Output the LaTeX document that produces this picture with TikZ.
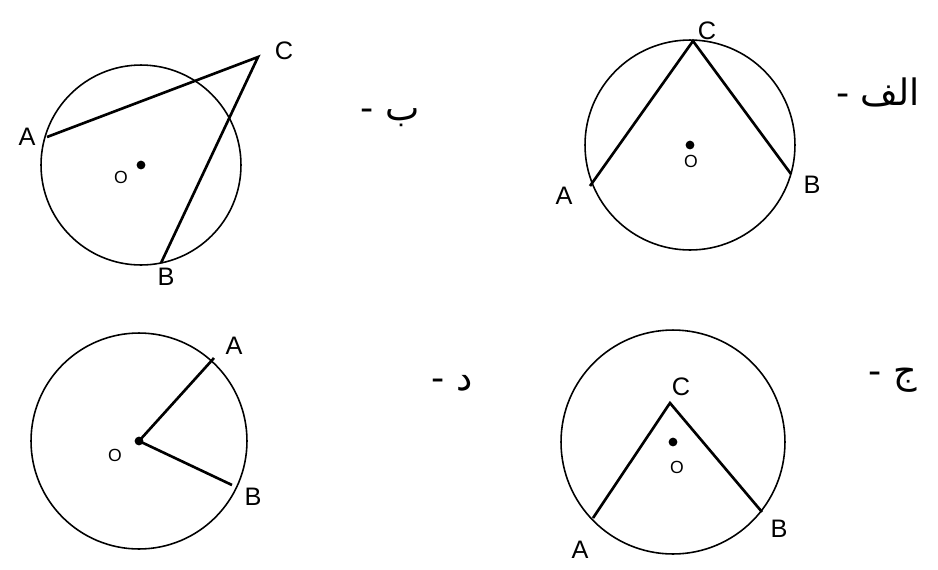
\documentclass[tikz,border=0pt]{standalone}
\usepackage{fontspec}
\setmainfont{Liberation Sans}
\newfontfamily\arabicfont[Script=Arabic]{DejaVu Sans}
\TeXXeTstate=1

\begin{document}
\begin{tikzpicture}[x=0.02cm, y=-0.02cm,
    rim/.style={line width=0.9pt},
    chord/.style={line width=1.5pt},
    lbl/.style={font=\Large},
    olbl/.style={font=\normalsize},
    tag/.style={font=\arabicfont\huge}]
  \useasboundingbox (0,0) rectangle (938,569);

  % ب
  \coordinate (Ob) at (141,165);
  \coordinate (Ab) at (47,137);
  \coordinate (Bb) at (161,263);
  \coordinate (Cb) at (258,57);
  \draw[rim] (Ob) circle (2cm);
  \draw[chord] (Ab) -- (Cb) -- (Bb);
  \fill (Ob) circle (2.5pt);
  \node[lbl] (tAb) at (27,137) {A};
  \node[lbl] (tBb) at (166,277) {B};
  \node[lbl] (tCb) at (284,51) {C};
  \node[olbl] (tOb) at (121,177) {O};
  \node[tag] (tagb) at (390,118) {\beginR ب -\endR};

  % الف
  \coordinate (Oa) at (690,145);
  \coordinate (Aa) at (590,186);
  \coordinate (Ba) at (791,174);
  \coordinate (Ca) at (693,41);
  \draw[rim] (Oa) circle (2.1cm);
  \draw[chord] (Aa) -- (Ca) -- (Ba);
  \fill (Oa) circle (2.5pt);
  \node[lbl] (tAa) at (564,196) {A};
  \node[lbl] (tBa) at (812,185) {B};
  \node[lbl] (tCa) at (707,31) {C};
  \node[olbl] (tOa) at (691,161) {O};
  \node[tag] (taga) at (878,92) {\beginR الف -\endR};

  % د
  \coordinate (Od) at (139,441);
  \coordinate (Ad) at (214,358);
  \coordinate (Bd) at (232,485);
  \draw[rim] (Od) circle (2.16cm);
  \draw[chord] (Ad) -- (Od) -- (Bd);
  \fill (Od) circle (2.5pt);
  \node[lbl] (tAd) at (234,346) {A};
  \node[lbl] (tBd) at (253,497) {B};
  \node[olbl] (tOd) at (115,455) {O};
  \node[tag] (tagd) at (452,383) {\beginR د -\endR};

  % ج
  \coordinate (Oj) at (673,442);
  \coordinate (Aj) at (593,518);
  \coordinate (Bj) at (762,512);
  \coordinate (Cj) at (670,403);
  \draw[rim] (Oj) circle (2.24cm);
  \draw[chord] (Aj) -- (Cj) -- (Bj);
  \fill (Oj) circle (2.5pt);
  \node[lbl] (tAj) at (580,550) {A};
  \node[lbl] (tBj) at (779,529) {B};
  \node[lbl] (tCj) at (681,387) {C};
  \node[olbl] (tOj) at (677,467) {O};
  \node[tag] (tagj) at (893,380) {\beginR ج -\endR};
\end{tikzpicture}
\end{document}
